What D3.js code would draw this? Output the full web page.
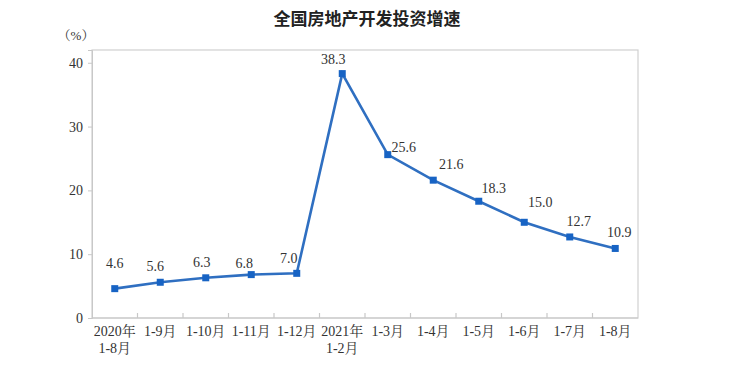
<!DOCTYPE html>
<html><head><meta charset="utf-8">
<script src="https://cdn.jsdelivr.net/npm/d3@7/dist/d3.min.js"></script>
<style>
body{margin:0;background:#fff;}
svg{display:block;}
</style></head>
<body>
<svg id="chart" width="735" height="366"></svg>
<script>
const categories = ["2020年\n1-8月","1-9月","1-10月","1-11月","1-12月","2021年\n1-2月","1-3月","1-4月","1-5月","1-6月","1-7月","1-8月"];
const values = [4.6,5.6,6.3,6.8,7.0,38.3,25.6,21.6,18.3,15.0,12.7,10.9];
const valueLabels = ["4.6","5.6","6.3","6.8","7.0","38.3","25.6","21.6","18.3","15.0","12.7","10.9"];
const yTicks = [0,10,20,30,40];
const title = "全国房地产开发投资增速";
const unit = "（%）";
// label offsets (layout only)
const labelDx = [0,-5,-4,-7,-8,-9,16,18,15,16,9,4];
const labelDy = [-26,-16,-16,-12,-15,-15,-8,-16,-13,-20,-16,-16];

const svg = d3.select("#chart");
const m = {left:92, right:638, top:50, bottom:318};
const serif = "'Liberation Serif','Times New Roman','Noto Serif CJK SC',serif";
const txt = "#333";

const x = d3.scaleBand().domain(d3.range(categories.length)).range([m.left, m.right]);
const y = d3.scaleLinear().domain([0,42]).range([m.bottom, m.top]);

svg.append("text").attr("x",367).attr("y",25).attr("text-anchor","middle")
  .attr("font-family","'Noto Sans CJK SC',sans-serif").attr("font-size",17).attr("font-weight",700)
  .attr("fill","#222").text(title);
svg.append("text").attr("x",76).attr("y",40).attr("text-anchor","middle")
  .attr("font-family",serif).attr("font-size",13).attr("fill",txt).text(unit);

// frame
svg.append("rect").attr("x",m.left).attr("y",m.top).attr("width",m.right-m.left).attr("height",m.bottom-m.top)
  .attr("fill","none").attr("stroke","#d0d0d0").attr("stroke-width",1.2);

// y axis
const yAxis = d3.axisLeft(y).tickValues(yTicks).tickSize(4).tickPadding(5).tickFormat(d3.format("d"));
const gy = svg.append("g").attr("transform",`translate(${m.left},0)`).call(yAxis);
gy.select(".domain").attr("stroke","#c8c8c8");
gy.selectAll(".tick line").attr("stroke","#c8c8c8");
gy.selectAll(".tick text").attr("font-family",serif).attr("font-size",14).attr("fill",txt);

// x axis: ticks at band boundaries, inside
const bounds = d3.range(1, categories.length);
svg.append("g").selectAll("line").data(bounds).join("line")
  .attr("x1",d=>x(d)).attr("x2",d=>x(d)).attr("y1",m.bottom).attr("y2",m.bottom-5)
  .attr("stroke","#c8c8c8").attr("stroke-width",1.2);
svg.append("line").attr("x1",m.left).attr("x2",m.right).attr("y1",m.bottom).attr("y2",m.bottom)
  .attr("stroke","#c8c8c8").attr("stroke-width",1.2);

const xl = svg.append("g").selectAll("text").data(categories).join("text")
  .attr("x",(d,i)=>x(i)+x.bandwidth()/2).attr("y",336).attr("text-anchor","middle")
  .attr("font-family",serif).attr("font-size",14).attr("fill",txt);
xl.each(function(d){
  const t = d3.select(this);
  d.split("\n").forEach((s,k)=>{
    t.append("tspan").attr("x",t.attr("x")).attr("dy",k===0?0:17).text(s);
  });
});

// line
const cx = i=>x(i)+x.bandwidth()/2;
const line = d3.line().x((d,i)=>cx(i)).y(d=>y(d));
svg.append("path").datum(values).attr("d",line).attr("fill","none")
  .attr("stroke","#2f6fc1").attr("stroke-width",2.6).attr("stroke-linejoin","miter");
svg.append("g").selectAll("rect").data(values).join("rect")
  .attr("x",(d,i)=>cx(i)-3.5).attr("y",d=>y(d)-3.5).attr("width",7).attr("height",7)
  .attr("fill","#1763c4");

svg.append("g").selectAll("text").data(values).join("text")
  .attr("x",(d,i)=>cx(i)+labelDx[i]).attr("y",(d,i)=>y(d)+labelDy[i]+5)
  .attr("text-anchor","middle").attr("font-family",serif).attr("font-size",14).attr("fill",txt)
  .text((d,i)=>valueLabels[i]);
</script>
</body></html>
